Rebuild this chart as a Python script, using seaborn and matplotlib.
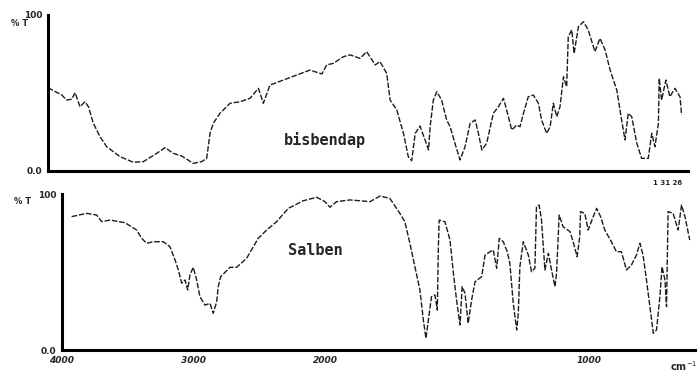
import numpy as np
import pandas as pd
import matplotlib
matplotlib.use("Agg")
import matplotlib.pyplot as plt
import seaborn as sns

# IR transmittance spectra (wavenumber in cm^-1, %T)
bisbendap_wn = [4000, 3897, 3860, 3822, 3797, 3760, 3722, 3697, 3660, 3610, 3560, 3460, 3360, 3285,
                3185, 3122, 3060, 2997, 2910, 2847, 2810, 2785, 2760, 2710, 2635, 2560, 2485, 2422,
                2385, 2335, 2235, 2135, 2035, 1973, 1955, 1930, 1892, 1867, 1830, 1805, 1773, 1755,
                1730, 1717, 1692, 1667, 1649, 1636, 1623, 1605, 1586, 1573, 1567, 1555, 1542, 1524,
                1505, 1492, 1474, 1455, 1436, 1417, 1398, 1386, 1373, 1355, 1330, 1311, 1292, 1280,
                1261, 1242, 1230, 1217, 1199, 1180, 1161, 1149, 1130, 1117, 1105, 1092, 1080, 1067,
                1055, 1049, 1036, 1027, 1011, 992, 974, 949, 930, 911, 892, 867, 849, 836, 824, 811,
                792, 774, 749, 736, 724, 711, 708, 699, 683, 668, 649, 630, 624]
bisbendap_t = [53.4, 48.7, 45.5, 46, 50.2, 41.2, 44.4, 41.2, 30.6, 22, 15.6, 9.2, 5.6, 6,
               11.3, 15, 11.3, 9.6, 4.9, 6, 8.1, 24.1, 30.6, 37, 43.4, 44.4, 46.6, 53,
               43.4, 55.1, 58.3, 61.5, 64.7, 62.2, 68, 69, 73.3, 74.4, 72.2, 76.5, 68, 70.1,
               62.6, 45.5, 39.1, 24.1, 9.2, 6.6, 24.1, 28.8, 19.9, 13.5, 28.4, 45.5, 50.8, 45.5,
               32.7, 28.4, 17.8, 7.1, 15.6, 30.6, 32.7, 24.1, 13.5, 17.8, 37, 41.2, 46.6, 39.1,
               26.3, 29.5, 28.4, 37, 47.6, 48.7, 43.4, 32.7, 24.1, 28.4, 43.4, 34.8, 41.2, 60.4,
               54, 86.1, 90.4, 75.4, 92.5, 95.7, 90.4, 76.5, 85, 77.6, 64.7, 51.9, 32.7, 19.9, 37, 34.8,
               17.8, 8.1, 8.1, 24.1, 15.6, 30.6, 59.4, 45.5, 58.3, 47.6, 53, 47.6, 35.9]

salben_wn = [3927, 3813, 3737, 3699, 3636, 3522, 3434, 3396, 3358, 3308, 3232, 3181, 3143, 3118,
             3092, 3067, 3047, 3030, 3005, 2979, 2954, 2916, 2878, 2853, 2827, 2815, 2797, 2726,
             2676, 2600, 2512, 2448, 2372, 2284, 2170, 2069, 2006, 1984, 1959, 1908, 1832, 1794,
             1757, 1719, 1700, 1681, 1662, 1643, 1630, 1620, 1611, 1599, 1586, 1577, 1573, 1570,
             1548, 1529, 1516, 1504, 1491, 1483, 1472, 1460, 1447, 1434, 1409, 1396, 1377, 1365,
             1352, 1342, 1327, 1312, 1302, 1289, 1276, 1270, 1264, 1251, 1232, 1220, 1207, 1201,
             1191, 1182, 1169, 1156, 1144, 1131, 1125, 1115, 1100, 1074, 1062, 1047, 1037, 1034,
             1018, 1005, 986, 973, 958, 942, 917, 898, 879, 860, 841, 822, 809, 797, 784, 771,
             758, 746, 733, 725, 714, 708, 702, 683, 664, 651, 638, 620]
salben_t = [85.5, 87.6, 86.5, 82.3, 83.3, 81.6, 76.9, 71.6, 68.4, 69.4, 69.4, 66.2, 57.7, 51.3,
            42.8, 44.9, 38.5, 48.1, 53, 44.9, 34.2, 28.8, 29.9, 23.5, 31, 40.6, 47, 53,
            53, 58.8, 71.6, 76.9, 82.3, 90.8, 95.7, 97.9, 95.1, 91.5, 95.1, 96.2, 95.1, 98.7,
            97.2, 87.6, 82.2, 68.4, 53.4, 38.5, 19.2, 7.5, 19.2, 34.2, 35.3, 25.6, 66.2, 83.3,
            82.2, 70.5, 49.1, 32, 16, 40.6, 36.3, 17.1, 32, 43.8, 47, 60.9, 63, 64.1,
            52.4, 71.6, 69.4, 63, 55.6, 29.9, 12.8, 23.5, 53.4, 69.4, 60.9, 50.2, 52.4, 91.9,
            92.9, 83.3, 51.3, 62, 51.3, 40.6, 49.1, 86.5, 79, 75.9, 69.4, 59.8, 72.6, 88.7,
            87.6, 76.9, 85.5, 90.8, 85.5, 76.9, 69.4, 63, 63, 51.3, 54.5, 60.9, 68.4, 60.9,
            44.9, 27.8, 10.7, 12.8, 34.2, 53.4, 44.9, 27.8, 88.7, 87.6, 76.9, 92.9, 85.5, 70.5]

x_ticks = [4000, 3000, 2000, 1000]
x_tick_labels = ["4000", "3000", "2000", "1000"]
y_ticks = [0, 100]
y_tick_labels = ["0.0", "100"]


# Spectrometer abscissa: scale doubles below 2000 cm^-1
def fwd(w):
    w = np.asarray(w, dtype=float)
    return np.where(w >= 2000, w, 2 * w - 2000)


def inv(u):
    u = np.asarray(u, dtype=float)
    return np.where(u >= 2000, u, (u + 2000) / 2)


sns.set_style("white")
plt.rcParams["font.family"] = ["DejaVu Sans"]

fig = plt.figure(figsize=(7, 3.72), dpi=100)
W, H = 700, 372
ax_top = fig.add_axes([48 / W, 1 - 171 / H, 640 / W, 156 / H])
ax_bot = fig.add_axes([62 / W, 1 - 350 / H, 633 / W, 156 / H])

line_kw = dict(estimator=None, sort=False, color="#1c1c1c", linewidth=1.0,
               linestyle=(0, (4, 1.3)))

df_top = pd.DataFrame({"wn": bisbendap_wn, "T": bisbendap_t})
df_bot = pd.DataFrame({"wn": salben_wn, "T": salben_t})
sns.lineplot(data=df_top, x="wn", y="T", ax=ax_top, **line_kw)
sns.lineplot(data=df_bot, x="wn", y="T", ax=ax_bot, **line_kw)

for ax in (ax_top, ax_bot):
    ax.set_xscale("function", functions=(fwd, inv))
    ax.set_xlim(4000, 600)
    ax.set_ylim(0, 100)
    ax.set_xlabel("")
    ax.set_ylabel("")
    for s in ("top", "right"):
        ax.spines[s].set_visible(False)
    for s in ("left", "bottom"):
        ax.spines[s].set_color("black")
        ax.spines[s].set_linewidth(2.2)
    ax.set_yticks(y_ticks)
    ax.set_yticklabels(y_tick_labels, fontsize=6.5, fontweight="bold")
    ax.set_xticks(x_ticks)
    ax.tick_params(axis="both", direction="inout", length=4, width=1, color="black", pad=2)
    ax.minorticks_off()

ax_top.set_xticklabels([])
ax_bot.set_xticklabels(x_tick_labels, fontsize=6.5, fontweight="bold", fontstyle="italic")

ax_top.text(0.433, 0.2, "bisbendap", transform=ax_top.transAxes, ha="center", va="center",
            fontsize=11, fontweight="bold", family="DejaVu Sans Mono")
ax_bot.text(0.40, 0.64, "Salben", transform=ax_bot.transAxes, ha="center", va="center",
            fontsize=11, fontweight="bold", family="DejaVu Sans Mono")

fig.text(20 / W, 1 - 23 / H, "% T", fontsize=6, fontweight="bold", ha="center", va="center")
fig.text(23 / W, 1 - 202 / H, "% T", fontsize=6, fontweight="bold", ha="center", va="center")
fig.text(668 / W, 1 - 183 / H, "1 31 26", fontsize=5, fontweight="bold", ha="center", va="center")
fig.text(684 / W, 1 - 366 / H, "cm$^{-1}$", fontsize=7, fontweight="bold", ha="center", va="center")

fig.savefig("out.png", dpi=100)
